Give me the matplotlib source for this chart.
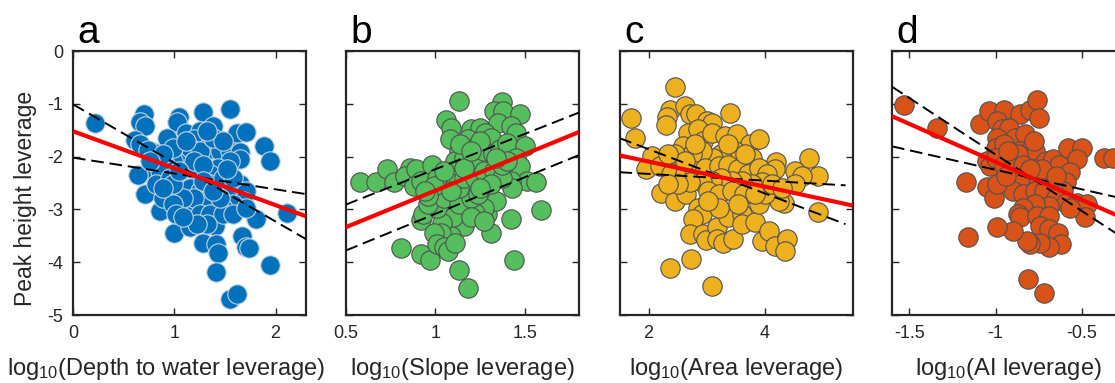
import numpy as np
import matplotlib
matplotlib.use("Agg")
import matplotlib.pyplot as plt

plt.rcParams["font.family"] = ["Liberation Sans", "DejaVu Sans"]
plt.rcParams["mathtext.default"] = "regular"
plt.rcParams["axes.unicode_minus"] = False

# ---- data (log10 leverages) ----
a_x = [0.22, 0.70, 0.66, 0.71, 0.61, 0.66, 1.05, 1.03, 1.28, 1.55, 1.38, 1.12, 0.93, 1.62, 1.71,
       1.89, 1.94, 0.79, 0.74, 0.76, 0.64, 0.71, 0.86, 0.89, 1.00, 1.15, 1.17, 1.28, 1.40, 1.41,
       1.43, 1.41, 1.55, 1.62, 1.94, 1.67, 1.71, 1.74, 1.81, 2.11,
       1.25, 1.19, 1.32, 1.38, 1.45, 1.55, 1.65, 1.65, 1.55, 1.43, 1.35, 1.25, 1.15, 1.09, 0.99,
       0.92, 0.86, 0.82, 0.96, 1.05, 1.15, 1.25, 1.35, 1.45, 1.55, 1.65, 1.71, 1.68, 1.58, 1.48,
       1.38, 1.28, 1.19, 1.09, 0.99, 1.02, 1.25, 1.35, 1.48, 1.58, 1.71, 1.32, 1.22, 1.09, 1.15,
       1.25, 0.99, 0.89, 1.38, 1.48, 1.32, 1.12, 1.19, 1.28, 1.48, 1.58, 1.45, 1.28, 1.38, 1.52,
       0.99, 0.89, 0.76, 1.05]
a_y = [-1.36, -1.20, -1.34, -1.42, -1.69, -1.77, -1.25, -1.34, -1.15, -1.09, -1.42, -1.55, -1.64, -1.55, -1.53,
       -1.80, -2.08, -1.92, -1.88, -2.24, -2.35, -2.70, -3.03, -2.78, -3.44, -3.34, -3.03, -3.63, -3.31, -3.66,
       -3.82, -4.18, -4.70, -4.61, -4.06, -3.50, -3.72, -3.74, -3.19, -3.07,
       -1.51, -1.67, -1.83, -1.86, -1.89, -1.89, -1.92, -2.05, -2.08, -2.21, -2.33, -2.40, -2.21, -2.02, -2.08,
       -2.18, -2.27, -2.52, -2.40, -2.52, -2.59, -2.65, -2.52, -2.65, -2.65, -2.52, -2.65, -2.84, -2.90, -2.97,
       -2.90, -2.84, -2.78, -2.78, -2.90, -3.09, -3.09, -3.09, -3.09, -3.09, -2.97, -3.28, -3.28, -3.15, -1.83,
       -1.89, -1.83, -1.96, -1.64, -1.70, -1.51, -1.70, -2.08, -2.15, -2.40, -2.40, -2.78, -2.46, -2.65, -2.24,
       -2.52, -2.59, -2.08, -2.27]

b_x = [0.58, 0.67, 0.73, 0.77, 0.81, 0.92, 0.97, 0.86, 0.83, 0.89, 0.98, 0.88, 0.92, 0.92, 0.93,
       1.06, 1.09, 1.08, 1.13, 1.13, 1.18, 1.37, 1.33, 1.38, 1.47, 1.35, 1.42, 1.45, 1.20, 1.25,
       1.28, 1.31, 1.18, 1.23, 1.13, 1.11, 1.16, 1.23, 1.27, 1.32, 1.36, 1.40, 1.50, 1.45, 1.47,
       1.51, 1.56, 1.42, 1.43, 1.59, 1.42, 1.44, 1.31, 1.29, 1.34, 1.27, 1.22, 1.16, 1.10, 1.09,
       1.04, 1.03, 0.99, 1.01, 1.05, 1.07, 1.11, 1.01, 0.96, 1.05, 1.13, 1.20, 1.24, 1.13, 1.07,
       1.01, 0.99, 0.96, 1.09, 1.16, 1.22, 1.27, 1.33, 1.37, 1.31, 1.25, 1.16, 1.05, 1.37, 1.40,
       1.25, 1.14, 0.94, 1.20, 1.27, 1.34, 1.20]
b_y = [-2.48, -2.49, -2.24, -2.49, -3.73, -3.84, -3.96, -2.21, -2.37, -2.24, -2.15, -2.56, -2.46, -3.21, -3.09,
       -1.31, -1.46, -1.67, -0.95, -4.15, -4.49, -0.97, -1.14, -1.14, -1.19, -1.36, -1.42, -1.55, -1.48, -1.45,
       -1.55, -1.64, -1.67, -1.80, -1.89, -2.08, -2.02, -2.08, -1.89, -1.96, -1.86, -1.74, -1.80, -2.02, -2.18,
       -2.46, -2.49, -2.46, -2.59, -3.02, -3.19, -3.96, -3.44, -3.09, -2.84, -2.97, -3.06, -3.32, -3.14, -3.50,
       -3.25, -3.44, -3.44, -3.66, -3.72, -3.79, -3.63, -2.97, -2.90, -2.78, -2.90, -2.78, -2.71, -2.59, -2.46,
       -2.40, -2.56, -2.74, -2.65, -2.40, -2.40, -2.27, -2.27, -2.40, -2.52, -2.59, -2.21, -2.27, -2.15, -2.08,
       -1.70, -1.77, -2.65, -3.15, -3.22, -2.02, -1.89]

c_x = [2.46, 1.69, 1.76, 2.36, 2.32, 2.29, 2.62, 2.71, 2.82, 3.39, 3.01, 3.08, 2.67, 2.85, 2.94,
       3.08, 2.59, 3.31, 3.51, 3.74, 3.89, 2.05, 1.96, 2.22, 2.45, 2.65, 2.85, 2.91, 2.76, 2.71,
       2.94, 2.98, 3.17, 3.17, 3.28, 3.45, 3.37, 3.60, 3.60, 3.83, 3.89, 3.94, 4.06, 4.17, 4.37,
       4.34, 2.72, 2.36, 3.08, 4.90, 4.76, 4.91, 4.52, 4.63, 4.52, 4.19, 4.17, 4.32, 4.23, 4.00,
       3.77, 3.48, 3.25, 3.11, 2.91, 2.74, 2.51, 2.33, 2.19, 2.39, 2.62, 2.79, 2.97, 3.20, 3.37,
       3.54, 3.71, 3.89, 4.03, 3.94, 3.77, 3.60, 3.43, 3.25, 3.08, 2.91, 2.71, 2.51, 2.33, 3.02,
       3.20, 3.43, 3.63, 3.83, 3.54, 3.20, 3.02, 4.11, 4.29, 3.37, 3.66, 2.79, 2.45, 2.62, 2.33]
c_y = [-0.68, -1.26, -1.64, -1.12, -1.25, -1.40, -1.04, -1.19, -1.20, -1.17, -1.32, -1.36, -1.55, -1.48, -1.70,
       -1.55, -1.80, -1.61, -1.58, -1.77, -1.67, -1.99, -2.24, -2.68, -2.84, -2.71, -2.97, -3.09, -3.19, -3.47,
       -3.47, -3.58, -3.34, -3.56, -3.63, -3.56, -3.15, -3.09, -3.28, -3.23, -2.90, -3.60, -3.41, -3.69, -3.56,
       -3.79, -3.94, -4.11, -4.45, -3.05, -2.02, -2.37, -2.27, -2.37, -2.52, -2.10, -2.24, -2.87, -2.84, -2.71,
       -2.02, -1.89, -1.96, -2.02, -1.89, -1.96, -2.08, -2.08, -2.18, -2.33, -2.33, -2.27, -2.21, -2.18, -2.15,
       -2.24, -2.33, -2.21, -2.33, -2.49, -2.52, -2.46, -2.46, -2.40, -2.46, -2.49, -2.49, -2.52, -2.52, -2.65,
       -2.71, -2.65, -2.71, -2.71, -2.90, -2.97, -2.84, -2.52, -2.59, -1.77, -1.96, -1.77, -1.96, -2.08, -1.96]

d_x = [-1.53, -1.34, -1.17, -1.16, -1.09, -1.04, -0.95, -0.86, -0.80, -0.76, -0.75, -0.99, -0.96, -0.92, -0.89,
       -0.83, -0.99, -1.00, -0.95, -0.86, -0.80, -0.77, -0.87, -1.05, -1.03, -1.00, -0.95, -0.90, -0.84, -0.76,
       -0.71, -0.67, -0.63, -0.58, -0.50, -0.53, -0.37, -0.32, -0.57, -0.59, -0.61, -0.67, -0.72, -0.76, -0.82,
       -0.86, -0.90, -0.84, -0.77, -0.72, -0.65, -0.59, -0.53, -0.47, -0.48, -0.57, -0.69, -0.77, -0.84, -0.87,
       -0.86, -0.76, -0.69, -0.74, -0.69, -0.64, -0.62, -0.69, -0.74, -0.80, -0.82, -0.90, -0.99, -1.05, -1.01,
       -0.99, -0.94, -0.81, -0.72, -0.78, -0.93, -0.73, -0.65, -0.80]
d_y = [-1.02, -1.45, -2.49, -3.53, -1.38, -1.14, -1.12, -1.20, -1.12, -0.93, -1.27, -1.32, -1.48, -1.45, -1.64,
       -1.58, -1.64, -1.83, -1.77, -1.89, -1.89, -1.89, -1.96, -2.08, -2.18, -2.02, -2.15, -2.21, -2.15, -2.21,
       -2.08, -2.05, -2.15, -1.83, -1.83, -2.05, -2.02, -2.03, -2.30, -2.49, -2.65, -2.52, -2.37, -2.46, -2.46,
       -2.40, -2.65, -2.71, -2.65, -2.65, -2.78, -2.87, -2.87, -2.90, -3.15, -2.97, -2.93, -2.90, -2.97, -3.09,
       -3.15, -3.12, -3.12, -3.31, -3.38, -3.44, -3.65, -3.72, -3.63, -3.66, -3.60, -3.41, -3.33, -2.57, -2.78,
       -2.51, -2.37, -4.32, -4.59, -1.70, -1.89, -2.24, -2.37, -2.24]

# fitted line and slope-CI lines: (intercept at x=0, slope)
a_fit = (-1.52, -0.70); a_ci = [(-1.01, -1.11), (-2.02, -0.30)]
b_fit = (-4.03, 1.385); b_ci = [(-3.58, 1.34), (-4.475, 1.39)]
c_fit = (-1.62, -0.2375); c_ci = [(-1.02, -0.42), (-2.20, -0.064)]
d_fit = (-3.54, -1.44); d_ci = [(-4.10, -2.14), (-2.99, -0.74)]

panels = [
    dict(letter="a", x=a_x, y=a_y, fit=a_fit, ci=a_ci, ci_span=(0, 2.3), xlim=(0, 2.3),
         xticks=[0, 1, 2], xticklabels=["0", "1", "2"], label="Depth to water leverage",
         face="#0072BD", edge="#c9d3de"),
    dict(letter="b", x=b_x, y=b_y, fit=b_fit, ci=b_ci, ci_span=(0.5, 1.8), xlim=(0.5, 1.8),
         xticks=[0.5, 1, 1.5], xticklabels=["0.5", "1", "1.5"], label="Slope leverage",
         face="#55BF5E", edge="#505050"),
    dict(letter="c", x=c_x, y=c_y, fit=c_fit, ci=c_ci, ci_span=(1.5, 5.38), xlim=(1.5, 5.5),
         xticks=[2, 4], xticklabels=["2", "4"], label="Area leverage",
         face="#EDB120", edge="#505050"),
    dict(letter="d", x=d_x, y=d_y, fit=d_fit, ci=d_ci, ci_span=(-1.6, -0.25), xlim=(-1.6, -0.25),
         xticks=[-1.5, -1, -0.5], xticklabels=["-1.5", "-1", "-0.5"], label="AI leverage",
         face="#D95319", edge="#505050"),
]

W, H = 1115, 383
fig = plt.figure(figsize=(W / 100, H / 100), dpi=100)
lefts = [73, 345.7, 619.5, 892]
aw, ah, ab = 233, 264, 68

for i, p in enumerate(panels):
    ax = fig.add_axes([lefts[i] / W, ab / H, aw / W, ah / H])
    ax.scatter(p["x"], p["y"], s=195, c=p["face"], edgecolors=p["edge"], linewidths=0.8, zorder=2)
    xs = np.array(p["xlim"])
    ax.plot(xs, p["fit"][0] + p["fit"][1] * xs, color="#FF0000", lw=3, zorder=4, solid_capstyle="butt")
    cs = np.array(p["ci_span"])
    for b0, b1 in p["ci"]:
        ax.plot(cs, b0 + b1 * cs, color="black", lw=1.4, dashes=(6.5, 3), zorder=3)
    ax.set_xlim(p["xlim"]); ax.set_ylim(-5, 0)
    ax.set_xticks(p["xticks"]); ax.set_xticklabels(p["xticklabels"])
    ax.set_yticks([-5, -4, -3, -2, -1, 0])
    if i == 0:
        ax.set_yticklabels(["-5", "-4", "-3", "-2", "-1", "0"])
        ax.set_ylabel("Peak height leverage", fontsize=16.5, color="#262626")
        ax.yaxis.set_label_coords(-0.155, 0.44)
    else:
        ax.set_yticklabels([])
    ax.tick_params(direction="in", length=5, width=1, top=True, right=True, labelsize=13,
                   colors="#262626", pad=7)
    for s in ax.spines.values():
        s.set_linewidth(1.6); s.set_color("#262626")
    ax.set_xlabel("log$_{10}$(" + p["label"] + ")", fontsize=17, color="#262626")
    ax.xaxis.set_label_coords(0.40 if i == 0 else 0.5, -0.155)
    ax.text(0.02, 1.0, p["letter"], transform=ax.transAxes, fontsize=28, va="bottom", ha="left")

fig.savefig("out.png", dpi=100)
